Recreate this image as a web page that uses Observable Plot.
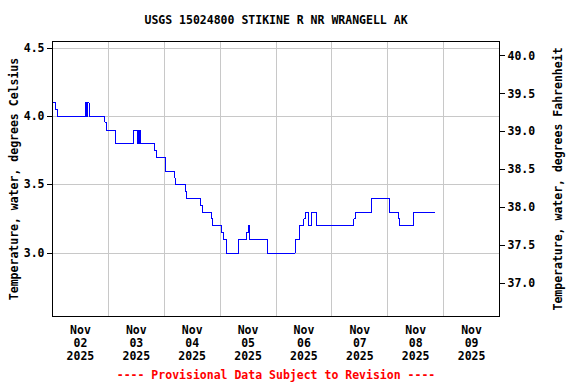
<!DOCTYPE html>
<html>
<head>
<meta charset="utf-8">
<script src="https://cdn.jsdelivr.net/npm/d3@7"></script>
<script src="https://cdn.jsdelivr.net/npm/@observablehq/plot@0.6"></script>
<style>
  html, body { margin: 0; padding: 0; background: #fff; }
</style>
</head>
<body>
<div id="chart"></div>
<script>
// Change points of the 15-minute series (step after), times in local station time
const times = [
  "2025-11-02T00:00", "2025-11-02T01:30", "2025-11-02T02:00",
  "2025-11-02T14:00", "2025-11-02T14:30", "2025-11-02T15:00", "2025-11-02T15:45",
  "2025-11-02T22:30", "2025-11-02T23:15",
  "2025-11-03T03:15",
  "2025-11-03T11:00", "2025-11-03T12:30", "2025-11-03T12:45", "2025-11-03T13:00", "2025-11-03T13:15", "2025-11-03T13:45",
  "2025-11-03T20:00", "2025-11-03T20:30",
  "2025-11-04T00:30",
  "2025-11-04T04:30", "2025-11-04T04:45",
  "2025-11-04T09:00", "2025-11-04T09:30",
  "2025-11-04T15:45", "2025-11-04T16:15",
  "2025-11-04T20:15", "2025-11-04T20:45",
  "2025-11-05T00:30", "2025-11-05T01:30",
  "2025-11-05T02:45",
  "2025-11-05T08:00",
  "2025-11-05T11:15", "2025-11-05T12:00", "2025-11-05T12:30",
  "2025-11-05T20:15",
  "2025-11-06T08:15",
  "2025-11-06T10:15",
  "2025-11-06T12:00", "2025-11-06T12:30",
  "2025-11-06T14:00",
  "2025-11-06T15:15",
  "2025-11-06T17:15",
  "2025-11-07T09:30", "2025-11-07T10:00",
  "2025-11-07T17:00",
  "2025-11-08T00:45",
  "2025-11-08T04:30", "2025-11-08T05:00",
  "2025-11-08T11:00",
  "2025-11-08T20:00"
];
const tempC = [
  4.1, 4.05, 4.0,
  4.1, 4.0, 4.1, 4.0,
  3.96, 3.9,
  3.8,
  3.9, 3.8, 3.9, 3.8, 3.9, 3.8,
  3.75, 3.7,
  3.6,
  3.55, 3.5,
  3.45, 3.4,
  3.35, 3.3,
  3.25, 3.2,
  3.15, 3.1,
  3.0,
  3.1,
  3.15, 3.2, 3.1,
  3.0,
  3.1,
  3.2,
  3.25, 3.3,
  3.2,
  3.3,
  3.2,
  3.25, 3.3,
  3.4,
  3.3,
  3.25, 3.2,
  3.3,
  3.3
];
const celsiusTicks = [3.0, 3.5, 4.0, 4.5];
const fahrenheitTicks = [37.0, 37.5, 38.0, 38.5, 39.0, 39.5, 40.0];
const dayLabels = ["2025-11-02", "2025-11-03", "2025-11-04", "2025-11-05", "2025-11-06", "2025-11-07", "2025-11-08", "2025-11-09"];
const midnights = ["2025-11-03", "2025-11-04", "2025-11-05", "2025-11-06", "2025-11-07", "2025-11-08", "2025-11-09"];
const xDomain = ["2025-11-02T00:00", "2025-11-10T00:00"];
const yDomain = [2.535, 4.55];

const title = "USGS 15024800 STIKINE R NR WRANGELL AK";
const caption = "---- Provisional Data Subject to Revision ----";
const yLabelLeft = "Temperature, water, degrees Celsius";
const yLabelRight = "Temperature, water, degrees Fahrenheit";

const toDate = s => new Date(s + (s.length === 10 ? "T00:00Z" : "Z"));
const data = times.map((t, i) => ({ t: toDate(t), v: tempC[i] }));
const noonTicks = dayLabels.map(d => new Date(toDate(d).getTime() + 12 * 3600e3));
const gridTimes = midnights.map(toDate);
const c2f = c => c * 9 / 5 + 32;
const f2c = f => (f - 32) * 5 / 9;
const fmtDay = d3.utcFormat("%b\n%d\n%Y");

const font = "DejaVu Sans Mono";

const chart = Plot.plot({
  width: 576,
  height: 384,
  marginLeft: 52,
  marginRight: 77,
  marginTop: 41,
  marginBottom: 68,
  style: { fontFamily: font, fontWeight: "bold", fontSize: "11.5px", background: "#fff", color: "#000" },
  x: { type: "utc", domain: xDomain.map(toDate) },
  y: { domain: yDomain },
  marks: [
    Plot.gridY(celsiusTicks, { stroke: "#c8c8c8", strokeOpacity: 1, shapeRendering: "crispEdges" }),
    Plot.gridX(gridTimes, { stroke: "#c8c8c8", strokeOpacity: 1, shapeRendering: "crispEdges" }),
    Plot.line(data, { x: "t", y: "v", curve: "step-after", stroke: "#0000ff", strokeWidth: 1, shapeRendering: "crispEdges" }),
    Plot.frame({ stroke: "#000", shapeRendering: "crispEdges" }),
    Plot.axisY(celsiusTicks, {
      anchor: "left", tickSize: 5, tickPadding: 3, tickFormat: d => d.toFixed(1), label: null,
      shapeRendering: "crispEdges"
    }),
    Plot.axisY(fahrenheitTicks.map(f2c), {
      anchor: "right", tickSize: 5, tickPadding: 3, tickFormat: c => c2f(c).toFixed(1), label: null,
      shapeRendering: "crispEdges"
    }),
    Plot.axisX(noonTicks, {
      anchor: "bottom", tickSize: 0, tickPadding: 8, tickFormat: d => fmtDay(d), label: null,
      lineHeight: 1.13
    }),
    Plot.text([yLabelLeft], { frameAnchor: "left", dx: -38, rotate: -90, textAnchor: "middle", lineAnchor: "middle", text: d => d, fill: "#000" }),
    Plot.text([yLabelRight], { frameAnchor: "right", dx: 59, rotate: -90, textAnchor: "middle", lineAnchor: "middle", text: d => d, fill: "#000" }),
    Plot.text([title], { frameAnchor: "top", dy: -21, lineAnchor: "middle", text: d => d, fill: "#000" }),
    Plot.text([caption], { frameAnchor: "bottom", dy: 59, lineAnchor: "middle", text: d => d, fill: "#ff0000" })
  ]
});
document.getElementById("chart").appendChild(chart);
</script>
</body>
</html>
